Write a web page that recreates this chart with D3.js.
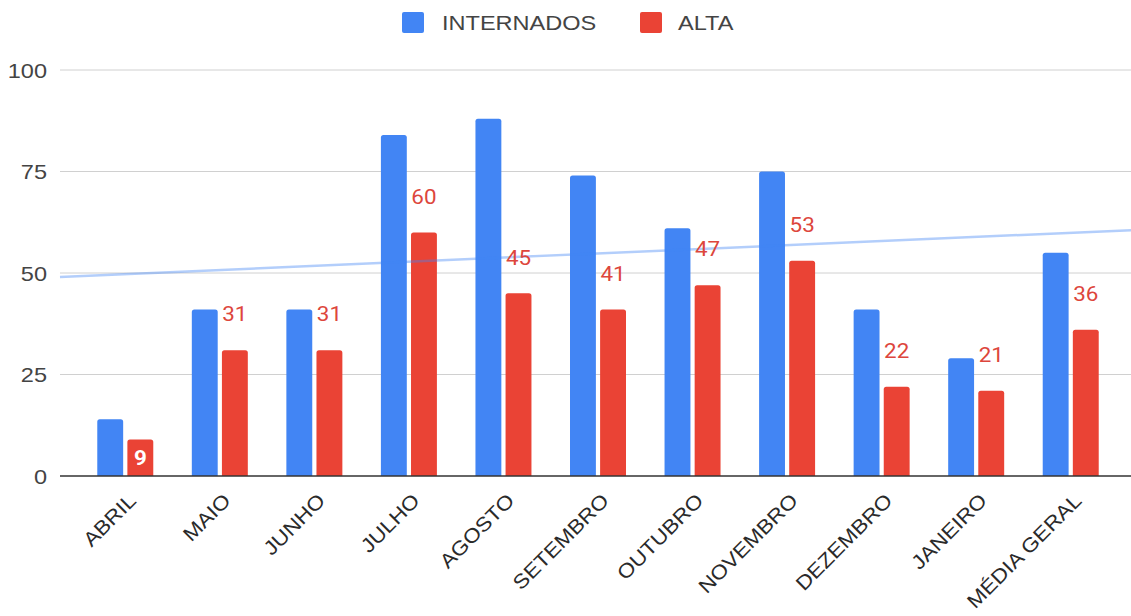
<!DOCTYPE html>
<html><head><meta charset="utf-8">
<script src="https://cdn.jsdelivr.net/npm/d3@7"></script>
<style>body{margin:0;background:#fff}svg{display:block}</style>
</head><body><svg id="c" width="1131" height="616"></svg>
<script>
const categories = ["ABRIL","MAIO","JUNHO","JULHO","AGOSTO","SETEMBRO","OUTUBRO","NOVEMBRO","DEZEMBRO","JANEIRO","MÉDIA GERAL"];
const internados = [14,41,41,84,88,74,61,75,41,29,55];
const alta = [9,31,31,60,45,41,47,53,22,21,36];
const yTicks = [0,25,50,75,100];
const seriesNames = ["INTERNADOS","ALTA"];
const colors = ["#4285f4","#ea4335"];

const svg = d3.select("#c");
const plotL = 60, plotR = 1131;
const FONT = "Liberation Sans, Arial, sans-serif";
const STRETCH = 1.12;
const y = d3.scaleLinear().domain([0,100]).range([476,70]);
const x = d3.scaleBand().domain(categories).range([78,1118]).paddingInner(0).paddingOuter(0);
const xs = d3.scaleBand().domain([0,1]).range([-28,28]).paddingInner(0.14);

function stretch(sel){
  sel.each(function(){
    const L = this.getComputedTextLength();
    d3.select(this).attr("textLength", L*STRETCH).attr("lengthAdjust","spacingAndGlyphs");
  });
}

// gridlines
svg.append("g").selectAll("line").data(yTicks.filter(d=>d>0)).join("line")
  .attr("x1",plotL).attr("x2",plotR).attr("y1",d=>y(d)).attr("y2",d=>y(d))
  .attr("stroke","#d0d0d0").attr("stroke-width",1);
// y labels
svg.append("g").selectAll("text").data(yTicks).join("text")
  .attr("x",47).attr("y",d=>y(d)).attr("dy","0.36em").attr("text-anchor","end")
  .attr("font-family",FONT).attr("font-size",21).attr("fill","#444")
  .text(d=>d).call(stretch);

function roundTop(x0,y0,w,h,r){
  r=Math.min(r,h,w/2);
  return `M${x0},${y0+h}V${y0+r}Q${x0},${y0} ${x0+r},${y0}H${x0+w-r}Q${x0+w},${y0} ${x0+w},${y0+r}V${y0+h}Z`;
}
const data = categories.map((c,i)=>({c, v:[internados[i],alta[i]]}));
const g = svg.append("g");
data.forEach(d=>{
  const cx = x(d.c)+x.bandwidth()/2;
  d.v.forEach((v,s)=>{
    const bx = cx + xs(s), bw = xs.bandwidth();
    g.append("path").attr("d",roundTop(bx,y(v),bw,y(0)-y(v),2.5)).attr("fill",colors[s]);
  });
});

// trendline (linear regression of INTERNADOS)
const n = internados.length;
const mx = d3.mean(d3.range(n)), my = d3.mean(internados);
const slope = d3.sum(d3.range(n),i=>(i-mx)*(internados[i]-my))/d3.sum(d3.range(n),i=>(i-mx)*(i-mx));
const icpt = my - slope*mx;
const c0 = x(categories[0])+x.bandwidth()/2, step = x.step();
const idx = p => (p-c0)/step;
svg.append("line")
  .attr("x1",plotL).attr("y1",y(icpt+slope*idx(plotL)))
  .attr("x2",plotR).attr("y2",y(icpt+slope*idx(plotR)))
  .attr("stroke","#4285f4").attr("stroke-opacity",0.4).attr("stroke-width",2.5);

// baseline
svg.append("line").attr("x1",plotL).attr("x2",plotR).attr("y1",y(0)).attr("y2",y(0))
  .attr("stroke","#333").attr("stroke-width",1.5);

// data labels for ALTA
data.forEach(d=>{
  const cx = x(d.c)+x.bandwidth()/2 + xs(1) + xs.bandwidth()/2;
  const v = d.v[1];
  const inside = v < 12;
  svg.append("text").attr("x",cx)
    .attr("y", inside ? y(v)+18 : y(v)-36)
    .attr("dy","0.36em").attr("text-anchor","middle")
    .attr("font-family","Roboto, Arial, sans-serif").attr("font-size",20)
    .attr("font-weight", inside ? 700 : 400)
    .attr("fill", inside ? "#fff" : "#dd463c")
    .text(v).call(stretch);
});

// x labels
svg.append("g").selectAll("text").data(categories).join("text")
  .attr("transform",d=>`translate(${x(d)+x.bandwidth()/2+12},${502}) rotate(-45)`)
  .attr("text-anchor","end")
  .attr("font-family",FONT).attr("font-size",20).attr("fill","#2a2a2a")
  .text(d=>d).call(stretch);

// legend
const leg = [{x:402,tx:442},{x:640,tx:678}];
seriesNames.forEach((s,i)=>{
  svg.append("rect").attr("x",leg[i].x).attr("y",12).attr("width",22).attr("height",21).attr("rx",2).attr("fill",colors[i]);
  svg.append("text").attr("x",leg[i].tx).attr("y",22.5).attr("dy","0.36em")
    .attr("font-family",FONT).attr("font-size",21).attr("fill","#444").text(s).call(stretch);
});
</script></body></html>
